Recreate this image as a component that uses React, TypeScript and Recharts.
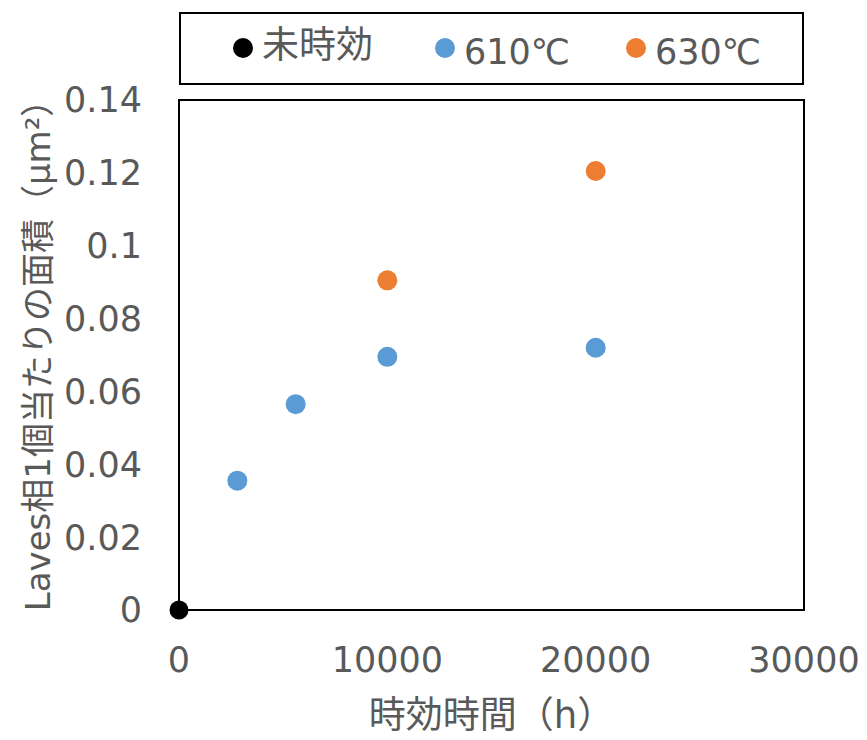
import { ScatterChart, Scatter, XAxis, YAxis, ZAxis, Legend, ReferenceArea, Label } from "recharts";

const unagedHours = [0];
const unagedArea = [0];
const hours610 = [2800, 5600, 10000, 20000];
const area610 = [0.0355, 0.0565, 0.0695, 0.072];
const hours630 = [10000, 20000];
const area630 = [0.0905, 0.1205];

const xTicks = [0, 10000, 20000, 30000];
const yTicks = [0, 0.02, 0.04, 0.06, 0.08, 0.1, 0.12, 0.14];

const seriesNames = ["未時効", "610℃", "630℃"];
const seriesColors = ["#000000", "#5B9BD5", "#ED7D31"];

const toPoints = (xs: number[], ys: number[]) => xs.map((x, i) => ({ x, y: ys[i] }));

const FONT = "'DejaVu Sans', 'Noto Sans CJK JP', sans-serif";
const GREY = "#595959";

const dot = (r: number, color: string) => (p: any) => (
  <circle cx={p.cx} cy={p.cy} r={r} fill={color} />
);

const LegendBox = () => (
  <div
    style={{
      position: "relative",
      width: 625,
      height: 73,
      boxSizing: "border-box",
      border: "2px solid #000",
      background: "#fff",
      fontFamily: FONT,
      color: GREY,
    }}
  >
    {seriesNames.map((name, i) => {
      const left = [52, 254, 445][i];
      const size = i === 0 ? 37 : 35;
      const textTop = i === 0 ? 13 : 21;
      return (
        <div key={name}>
          <span
            style={{
              position: "absolute",
              left,
              top: 24,
              width: 20,
              height: 20,
              borderRadius: "50%",
              background: seriesColors[i],
            }}
          />
          <span
            style={{
              position: "absolute",
              left: left + 29,
              top: textTop,
              fontSize: size,
              lineHeight: `${size}px`,
              whiteSpace: "nowrap",
            }}
          >
            {name}
          </span>
        </div>
      );
    })}
  </div>
);

export default function App() {
  const tickStyle = { fill: GREY, fontSize: 35, fontFamily: FONT };
  return (
    <ScatterChart width={859} height={732} margin={{ top: 92, right: 63, bottom: 50, left: 71 }}>
      <XAxis
        type="number"
        dataKey="x"
        domain={[0, 30000]}
        ticks={xTicks}
        axisLine={false}
        tickLine={false}
        tick={tickStyle}
        tickMargin={31}
        height={80}
      >
        <Label
          content={(p: any) => (
            <text
              x={p.viewBox.x + p.viewBox.width / 2}
              y={p.viewBox.y + 118}
              textAnchor="middle"
              fill={GREY}
              fontSize={37}
              fontFamily={FONT}
            >
              時効時間（h）
            </text>
          )}
        />
      </XAxis>
      <YAxis
        type="number"
        dataKey="y"
        domain={[0, 0.14]}
        ticks={yTicks}
        axisLine={false}
        tickLine={false}
        tick={tickStyle}
        tickMargin={31}
        width={100}
      >
        <Label
          content={(p: any) => {
            const cx = 30;
            const cy = p.viewBox.y + p.viewBox.height / 2 - 8;
            return (
              <text
                x={cx}
                y={cy}
                transform={`rotate(-90, ${cx}, ${cy})`}
                textAnchor="middle"
                dominantBaseline="central"
                fill={GREY}
                fontSize={34}
                fontFamily={FONT}
              >
                Laves相1個当たりの面積（μm²）
              </text>
            );
          }}
        />
      </YAxis>
      <ZAxis range={[300, 300]} />
      <ReferenceArea x1={0} x2={30000} y1={0} y2={0.14} fill="none" stroke="#000" strokeWidth={2} ifOverflow="visible" />
      <Legend
        layout="horizontal"
        verticalAlign="middle"
        align="center"
        wrapperStyle={{ top: 4, left: 171, width: 625 }}
        content={() => <LegendBox />}
      />
      <Scatter
        name={seriesNames[1]}
        data={toPoints(hours610, area610)}
        fill={seriesColors[1]}
        shape={dot(10, seriesColors[1])}
        isAnimationActive={false}
      />
      <Scatter
        name={seriesNames[2]}
        data={toPoints(hours630, area630)}
        fill={seriesColors[2]}
        shape={dot(10, seriesColors[2])}
        isAnimationActive={false}
      />
      <Scatter
        name={seriesNames[0]}
        data={toPoints(unagedHours, unagedArea)}
        fill={seriesColors[0]}
        shape={dot(9.5, seriesColors[0])}
        isAnimationActive={false}
      />
    </ScatterChart>
  );
}
